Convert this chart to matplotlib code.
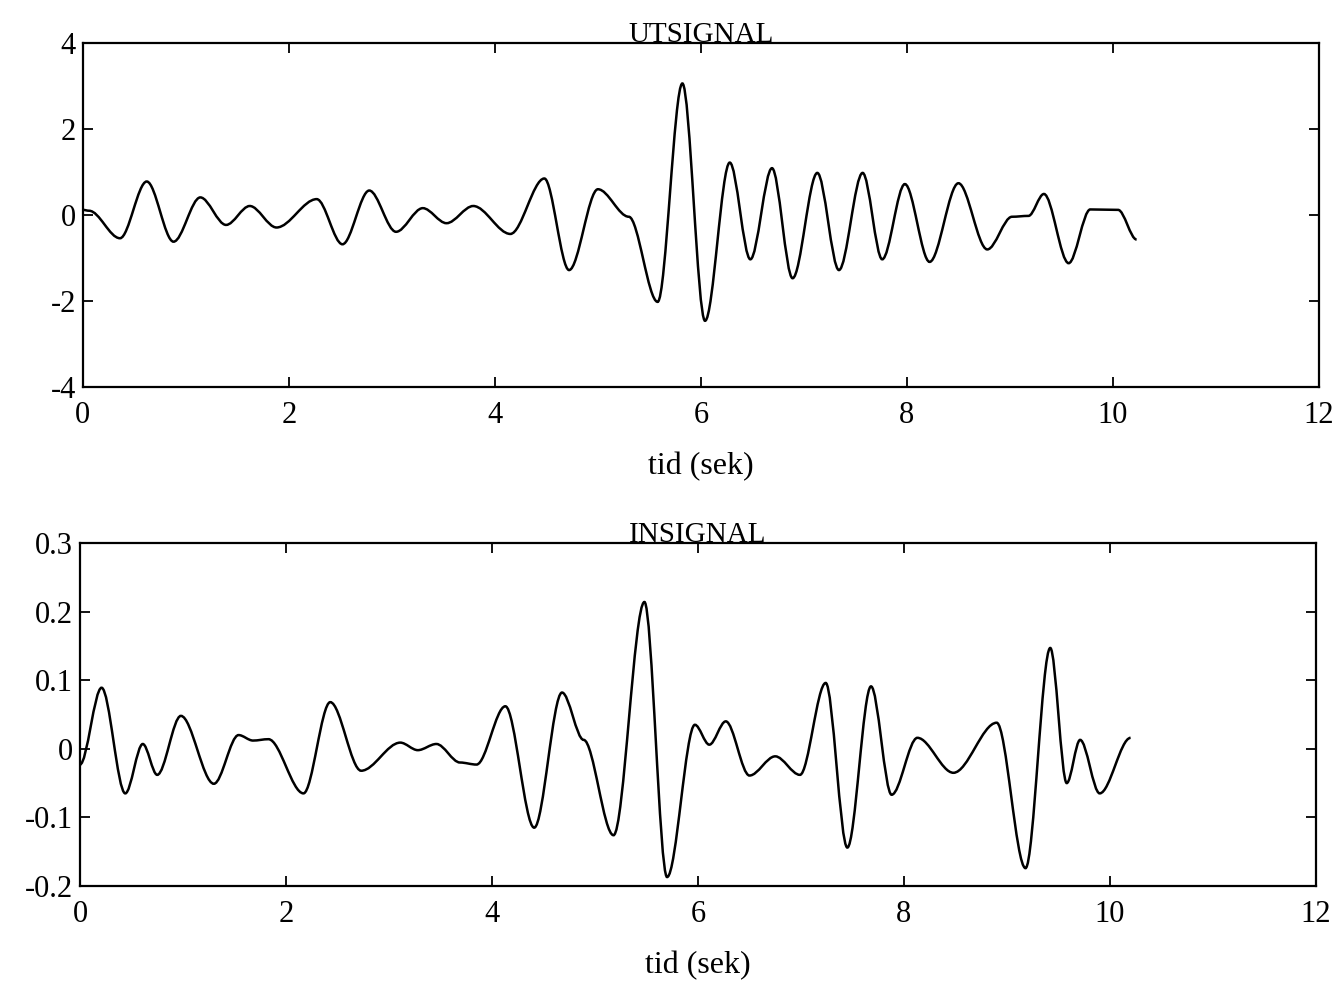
import matplotlib
matplotlib.use('Agg')
import matplotlib.pyplot as plt
from matplotlib.path import Path
from matplotlib.patches import PathPatch

# extrema (tid in sek)
ut_t = [0.00, 0.06, 0.36, 0.62, 0.88, 1.14, 1.39, 1.62, 1.88, 2.27, 2.52, 2.78,
        3.04, 3.30, 3.53, 3.79, 4.15, 4.48, 4.72, 5.00, 5.30, 5.58, 5.82, 6.04,
        6.28, 6.48, 6.69, 6.89, 7.13, 7.34, 7.57, 7.76, 7.98, 8.22, 8.50, 8.78,
        9.02, 9.18, 9.33, 9.57, 9.78, 10.05, 10.23]
ut_v = [0.12, 0.10, -0.54, 0.78, -0.62, 0.41, -0.23, 0.21, -0.29, 0.37, -0.68, 0.57,
        -0.39, 0.16, -0.19, 0.21, -0.44, 0.85, -1.28, 0.60, -0.04, -2.02, 3.06, -2.46,
        1.22, -1.03, 1.09, -1.47, 0.98, -1.28, 0.98, -1.03, 0.72, -1.09, 0.74, -0.80,
        -0.04, -0.02, 0.49, -1.12, 0.13, 0.12, -0.57]

in_t = [0.00, 0.21, 0.44, 0.61, 0.75, 0.98, 1.30, 1.54, 1.68, 1.83, 2.17, 2.43,
        2.73, 3.11, 3.28, 3.46, 3.69, 3.85, 4.13, 4.41, 4.68, 4.89, 5.18, 5.48,
        5.70, 5.97, 6.11, 6.27, 6.50, 6.75, 6.99, 7.24, 7.45, 7.68, 7.88, 8.13,
        8.48, 8.90, 9.18, 9.42, 9.58, 9.71, 9.90, 10.20]
in_v = [-0.023, 0.089, -0.065, 0.007, -0.038, 0.048, -0.051, 0.020, 0.012, 0.014, -0.065, 0.068,
        -0.032, 0.009, -0.002, 0.007, -0.020, -0.023, 0.062, -0.115, 0.082, 0.013, -0.126, 0.214,
        -0.187, 0.035, 0.006, 0.040, -0.039, -0.011, -0.038, 0.096, -0.144, 0.091, -0.067, 0.016,
        -0.035, 0.038, -0.174, 0.147, -0.050, 0.013, -0.065, 0.016]

x_ticks = [0, 2, 4, 6, 8, 10, 12]
ut_yticks = [-4, -2, 0, 2, 4]
in_yticks = [-0.2, -0.1, 0, 0.1, 0.2, 0.3]
in_ylabels = ['-0.2', '-0.1', '0', '0.1', '0.2', '0.3']

plt.rcParams['font.family'] = ['Liberation Serif', 'DejaVu Serif']
plt.rcParams['axes.unicode_minus'] = False


def smooth(ax, t, v):
	# cubic segments with flat tangents at each read extremum
	verts = [(t[0], v[0])]
	codes = [Path.MOVETO]
	for i in range(len(t) - 1):
		d = (t[i + 1] - t[i]) / 3.0
		verts += [(t[i] + d, v[i]), (t[i + 1] - d, v[i + 1]), (t[i + 1], v[i + 1])]
		codes += [Path.CURVE4] * 3
	ax.add_patch(PathPatch(Path(verts, codes), fill=False, lw=1.8, ec='black'))


def style(ax, title):
	ax.set_xlim(0, 12)
	ax.set_xticks(x_ticks)
	ax.tick_params(direction='in', length=7, width=1.3, top=True, right=True,
				   labelsize=22, colors='black')
	ax.tick_params(axis='x', pad=10)
	ax.tick_params(axis='y', pad=5)
	for s in ax.spines.values():
		s.set_linewidth(1.6)
	ax.set_title(title, fontsize=21, pad=1)
	ax.set_xlabel('tid (sek)', fontsize=23, labelpad=16)


fig = plt.figure(figsize=(13.37, 9.83), dpi=100)
ax1 = fig.add_axes([0.062, 0.6063, 0.9245, 0.3499])
ax2 = fig.add_axes([0.0598, 0.0987, 0.9245, 0.3489])

smooth(ax1, ut_t, ut_v)
ax1.set_ylim(-4, 4)
ax1.set_yticks(ut_yticks)
style(ax1, 'UTSIGNAL')

smooth(ax2, in_t, in_v)
ax2.set_ylim(-0.2, 0.3)
ax2.set_yticks(in_yticks)
ax2.set_yticklabels(in_ylabels)
style(ax2, 'INSIGNAL')

fig.savefig('out.png', dpi=100)
